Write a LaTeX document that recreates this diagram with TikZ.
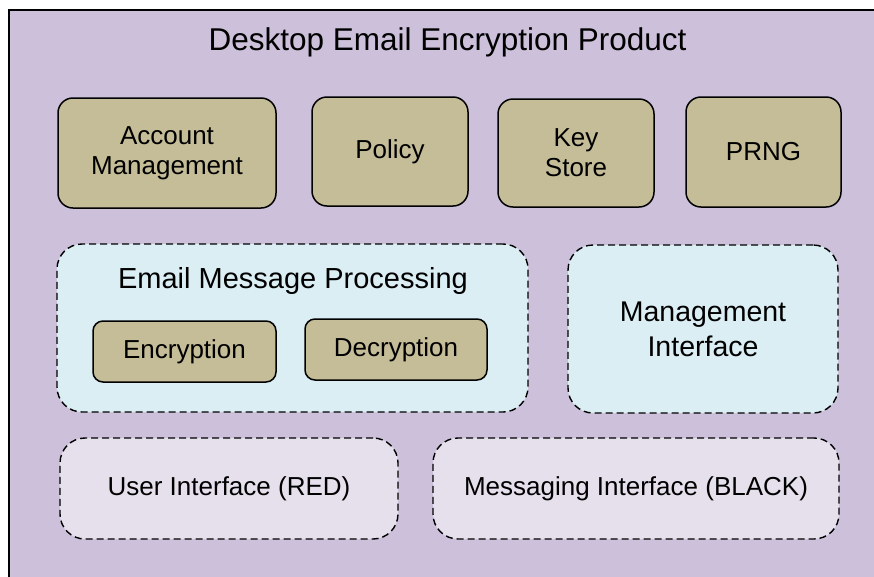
\documentclass[tikz,border=0pt]{standalone}
\usepackage{fontspec}
\setmainfont{Liberation Sans}

\definecolor{prodfill}{RGB}{204,192,218}
\definecolor{tanfill}{RGB}{196,189,151}
\definecolor{procfill}{RGB}{218,238,243}
\definecolor{iffill}{RGB}{229,224,236}

\tikzset{
    modbox/.style={draw=black, line width=1.5pt, fill=tanfill, rounded corners=15pt,
        align=center, inner sep=0pt, font=\fontsize{26}{30}\selectfont},
    subbox/.style={modbox, rounded corners=10pt},
    groupbox/.style={draw=black, line width=1.4pt, dash pattern=on 7pt off 4pt,
        rounded corners=25pt, inner sep=0pt, align=center,
        font=\fontsize{28.5}{35}\selectfont},
}

\begin{document}
\begin{tikzpicture}[x=1pt,y=-1pt]

                \clip (0,0) rectangle (874,576);
                \fill[white] (0,0) rectangle (874,576);

                % the product itself
                \node[draw=black, line width=2pt, fill=prodfill, anchor=north west,
                      minimum width=900pt, minimum height=600pt] (product) at (8,9) {};
                \node[font=\fontsize{31.5}{36}\selectfont] (title) at (447.5,42) {Desktop Email Encryption Product};

                % top row of modules
                \node[modbox, minimum width=218pt, minimum height=110pt] (account) at (167,153) {Account\\Management};
                \node[modbox, minimum width=156pt, minimum height=109pt] (policy) at (390,151.5) {Policy};
                \node[modbox, minimum width=156pt, minimum height=108pt] (keystore) at (576,153) {Key\\Store};
                \node[modbox, minimum width=155pt, minimum height=110pt] (prng) at (763.5,152) {PRNG};

                % message processing and management
                \node[groupbox, fill=procfill, minimum width=471pt, minimum height=168pt] (processing) at (292.5,328) {};
                \node[font=\fontsize{29}{34}\selectfont] (proctitle) at (293,281) {Email Message Processing};
                \node[subbox, minimum width=183pt, minimum height=61pt] (encrypt) at (184.5,351.5) {Encryption};
                \node[subbox, minimum width=182pt, minimum height=61pt] (decrypt) at (396,349.5) {Decryption};
                \node[groupbox, fill=procfill, minimum width=270pt, minimum height=168pt] (mgmt) at (703,329) {Management\\Interface};

                % interfaces
                \node[groupbox, fill=iffill, minimum width=338pt, minimum height=101pt,
                      font=\fontsize{26}{30}\selectfont] (userif) at (229,488.5) {User Interface (RED)};
                \node[groupbox, fill=iffill, minimum width=406pt, minimum height=101pt,
                      font=\fontsize{26}{30}\selectfont] (msgif) at (636,488.5) {Messaging Interface (BLACK)};

\end{tikzpicture}
\end{document}
